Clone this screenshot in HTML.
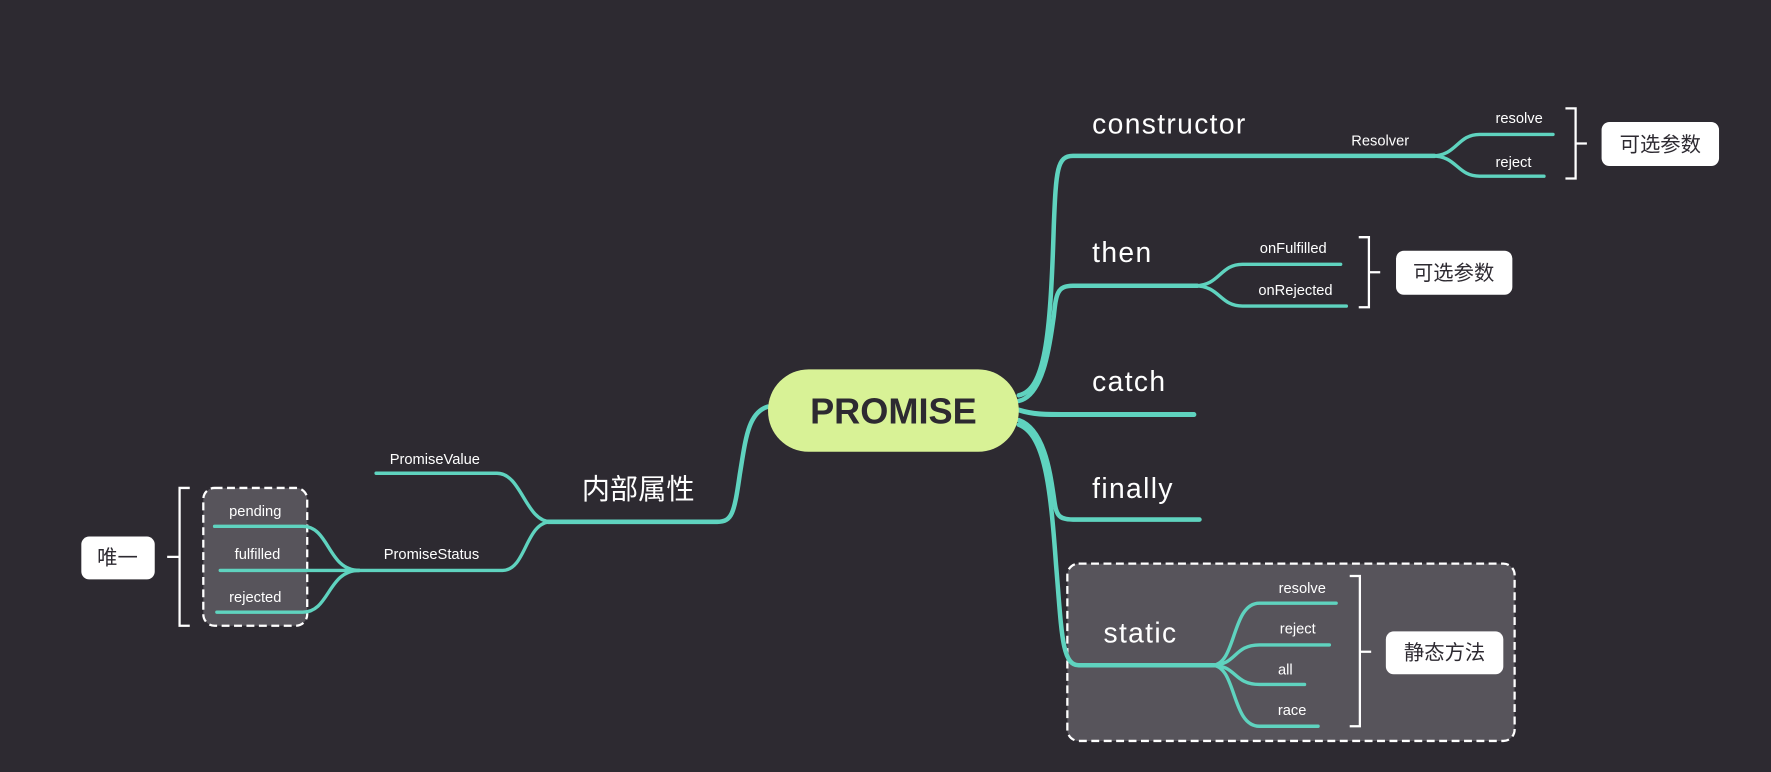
<!DOCTYPE html>
<html><head><meta charset="utf-8"><style>
html,body{margin:0;padding:0;background:#2d2a31;width:1771px;height:772px;overflow:hidden}
svg{display:block}
text{font-family:"Liberation Sans","Noto Sans CJK SC",sans-serif;fill:#fff}
</style></head><body>
<svg width="1771" height="772" viewBox="0 0 1568 683.5" preserveAspectRatio="none" xmlns="http://www.w3.org/2000/svg">
<rect width="1568" height="684" fill="#2d2a31"/>
<rect x="945" y="499" width="396" height="157" rx="10" fill="#57545b" stroke="#fff" stroke-width="2" stroke-dasharray="7 4"/>
<rect x="180" y="432" width="92" height="122" rx="10" fill="#57545b" stroke="#fff" stroke-width="2" stroke-dasharray="7 4"/>
<g fill="none" stroke="#5fd3bf" stroke-linecap="round">
<path d="M902 350 C925 345 930 300 933 200 C935 150 936 138 950 138 L1270 138" stroke-width="4"/>
<path d="M902 355 C925 350 930 300 933 280 C935 260 936 253 950 253 L1060 253" stroke-width="4"/>
<path d="M902 363 C915 367 925 367 940 367 L1057 367" stroke-width="4.5"/>
<path d="M902 372 C925 380 930 420 933 440 C935 455 936 460 950 460 L1062 460" stroke-width="4"/>
<path d="M902 376 C925 385 930 430 935 500 C940 560 940 589 955 589 L1075 589" stroke-width="4"/>
<path d="M1268 138 C1290 138 1290 119 1310 119 L1375 119" stroke-width="3"/>
<path d="M1268 138 C1290 138 1290 156 1310 156 L1367 156" stroke-width="3"/>
<path d="M1058 253 C1080 253 1080 234 1100 234 L1187 234" stroke-width="3"/>
<path d="M1058 253 C1080 253 1080 271 1100 271 L1192 271" stroke-width="3"/>
<path d="M1073 589 C1095 589 1090 534 1115 534 L1183 534" stroke-width="3"/>
<path d="M1073 589 C1095 589 1092 571 1115 571 L1177 571" stroke-width="3"/>
<path d="M1073 589 C1095 589 1092 606 1115 606 L1155 606" stroke-width="3"/>
<path d="M1073 589 C1095 589 1090 643 1115 643 L1167 643" stroke-width="3"/>
<path d="M680 360 C662 365 660 390 655 420 C650 455 648 462 635 462 L485 462" stroke-width="4"/>
<path d="M488 462 C465 462 462 419 440 419 L333 419" stroke-width="3"/>
<path d="M488 462 C465 462 466 505 445 505 L305 505" stroke-width="3"/>
<path d="M318 505 C290 505 292 466 268 466 L190 466" stroke-width="3"/>
<path d="M318 505 L195 505" stroke-width="3"/>
<path d="M318 505 C290 505 292 542 268 542 L192 542" stroke-width="3"/>
</g>
<g fill="none" stroke="#fff" stroke-width="2">
<path d="M1386 96 H1395 V158 H1386 M1395 127 H1405"/>
<path d="M1203 210 H1212 V272 H1203 M1212 241 H1222"/>
<path d="M1195 510 H1204 V643 H1195 M1204 577 H1214"/>
<path d="M168 432 H159 V554 H168 M159 493 H148"/>
</g>
<rect x="680" y="327" width="222" height="73" rx="36" fill="#d8f296"/>
<text x="791" y="375" text-anchor="middle" font-size="32" font-weight="bold" style="fill:#2d2a31">PROMISE</text>
<rect x="1418" y="108" width="104" height="39" rx="7" fill="#fff"/>
<text x="1470" y="134" text-anchor="middle" font-size="18" style="fill:#2d2a31">可选参数</text>
<rect x="1236" y="222" width="103" height="39" rx="7" fill="#fff"/>
<text x="1287" y="248" text-anchor="middle" font-size="18" style="fill:#2d2a31">可选参数</text>
<rect x="1227" y="559" width="104" height="38" rx="7" fill="#fff"/>
<text x="1279" y="584" text-anchor="middle" font-size="18" style="fill:#2d2a31">静态方法</text>
<rect x="72" y="475" width="65" height="38" rx="7" fill="#fff"/>
<text x="104" y="500" text-anchor="middle" font-size="18" style="fill:#2d2a31">唯一</text>
<g font-size="25" letter-spacing="1.2">
<text x="967" y="118">constructor</text>
<text x="967" y="232">then</text>
<text x="967" y="346">catch</text>
<text x="967" y="441">finally</text>
<text x="977" y="569">static</text>
</g>
<text x="565" y="442" text-anchor="middle" font-size="25">内部属性</text>
<g font-size="13" text-anchor="middle">
<text x="1222" y="129">Resolver</text>
<text x="1345" y="109">resolve</text>
<text x="1340" y="148">reject</text>
<text x="1145" y="224">onFulfilled</text>
<text x="1147" y="261">onRejected</text>
<text x="1153" y="525">resolve</text>
<text x="1149" y="561">reject</text>
<text x="1138" y="597">all</text>
<text x="1144" y="633">race</text>
<text x="385" y="411">PromiseValue</text>
<text x="382" y="495">PromiseStatus</text>
<text x="226" y="457">pending</text>
<text x="228" y="495">fulfilled</text>
<text x="226" y="533">rejected</text>
</g>
</svg>
</body></html>
